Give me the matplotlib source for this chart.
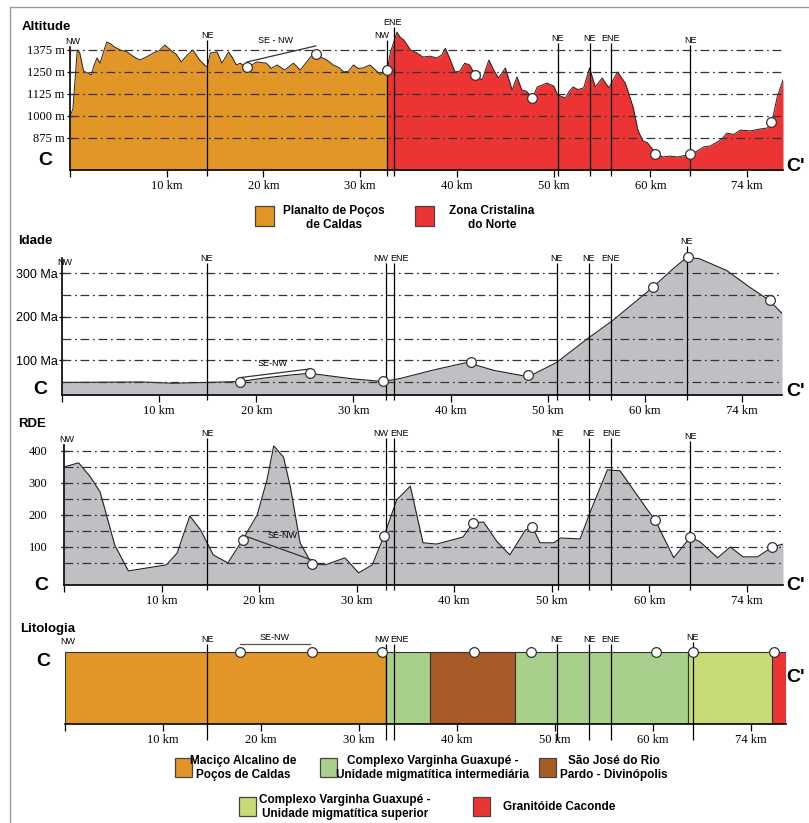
import matplotlib.pyplot as plt
from matplotlib.patches import Rectangle

W, H = 809, 823

# ------------------------ data ------------------------
fault_names = ['NE', 'NW', 'ENE', 'NE', 'NE', 'ENE', 'NE']
tick_km = [0, 10, 20, 30, 40, 50, 60, 70]
tick_lab = ['', '10 km', '20 km', '30 km', '40 km', '50 km', '60 km', '74 km']

# Altitude (m) -- Planalto de Pocos de Caldas part and Zona Cristalina part
alt_km_pp = [0, 0.3, 0.75, 1.0, 1.4, 1.8, 2.2, 2.5, 2.8, 3.1, 3.5, 3.8, 4.2, 4.6,
             5.2, 5.9, 6.5, 7.2, 7.9, 8.6, 9.2, 9.8, 10.5, 11.0, 11.5, 12.1, 12.7,
             13.4, 14.0, 14.2, 14.5, 15.2, 15.7, 16.4, 16.8, 17.2, 17.6, 18.3, 18.8,
             19.3, 20.3, 20.8, 21.4, 22.2, 23.1, 23.8, 24.5, 25.2, 25.9, 26.5, 27.2,
             27.8, 28.3, 28.8, 29.3, 29.8, 30.3, 31.0, 31.6, 32.1, 32.5, 32.8]
alt_m_pp = [1000, 1040, 1375, 1360, 1255, 1245, 1233, 1290, 1330, 1300, 1370, 1420,
            1410, 1392, 1375, 1364, 1340, 1318, 1335, 1358, 1370, 1403, 1370, 1350,
            1307, 1345, 1375, 1318, 1285, 1280, 1358, 1364, 1300, 1364, 1330, 1290,
            1300, 1273, 1290, 1307, 1300, 1270, 1290, 1261, 1300, 1261, 1310, 1358,
            1335, 1320, 1290, 1275, 1250, 1255, 1290, 1270, 1273, 1290, 1260, 1235,
            1250, 1261]
alt_km_zc = [32.8, 33.1, 33.8, 34.1, 34.5, 35.2, 35.8, 36.5, 37.2, 37.9, 38.4, 38.8,
             39.3, 39.8, 40.3, 40.8, 41.3, 41.9, 42.6, 43.3, 43.8, 44.3, 45.0, 45.7,
             46.2, 46.7, 47.2, 47.8, 48.3, 49.3, 50.0, 50.4, 51.2, 51.6, 52.0, 52.5,
             53.1, 53.7, 54.3, 55.0, 55.7, 56.6, 57.4, 58.2, 58.7, 59.2, 59.7, 60.1,
             60.5, 61.3, 62.0, 62.8, 63.5, 64.1, 64.8, 65.5, 66.2, 66.9, 67.4, 67.9,
             68.6, 69.3, 70.3, 71.2, 72.1, 72.6, 73.1, 73.7]
alt_m_zc = [1261, 1358, 1477, 1449, 1432, 1375, 1360, 1335, 1340, 1330, 1345, 1385,
            1320, 1250, 1255, 1300, 1290, 1233, 1205, 1318, 1260, 1216, 1273, 1148,
            1222, 1148, 1140, 1102, 1165, 1187, 1170, 1120, 1102, 1140, 1165, 1150,
            1160, 1273, 1165, 1216, 1160, 1250, 1187, 1051, 920, 860, 847, 820,
            790, 767, 772, 767, 775, 779, 800, 824, 830, 852, 870, 903,
            895, 920, 915, 925, 932, 977, 1108, 1205]
alt_pts_km = [18.3, 25.4, 32.8, 41.9, 47.8, 60.5, 64.1, 72.5]
alt_pts_m = [1278, 1352, 1261, 1233, 1102, 784, 784, 966]
alt_senw_km = [18.3, 25.4]
alt_senw_m = [1307, 1398]
alt_faults = [14.2, 32.8, 33.5, 50.4, 53.7, 55.9, 64.1]
alt_fault_top = [1432, 1432, 1506, 1415, 1415, 1415, 1403]
alt_grid = [1375, 1250, 1125, 1000, 875]

# Idade (Ma)
age_km = [0, 8.3, 11.4, 14.9, 18.3, 21.1, 23.5, 25.5, 27.2, 30.0, 33.0, 34.8, 38.3,
          41.7, 44.4, 48.0, 50.9, 54.1, 56.7, 60.8, 62.9, 64.3, 65.6, 68.4, 70.8,
          72.8, 74.1]
age_ma = [49, 50, 47, 49, 51, 60, 66, 70, 65, 57, 51, 58, 78, 95, 77, 62, 95, 150,
          192, 268, 311, 337, 334, 307, 268, 238, 208]
age_pts_km = [18.3, 25.5, 33.0, 42.1, 48.0, 60.8, 64.4, 72.9]
age_pts_ma = [51, 70, 53, 95, 65, 268, 337, 240]
age_senw_km = [18.3, 25.5]
age_senw_ma = [60, 80]
age_faults = [14.9, 33.3, 34.2, 50.9, 54.2, 56.5, 64.3]
age_fault_top = [325, 323, 323, 323, 323, 323, 364]
age_grid = [300, 250, 200, 150, 100, 50]

# RDE
rde_km = [0, 1.5, 2.7, 3.7, 5.2, 6.6, 10.5, 11.6, 12.9, 14.0, 15.3, 16.8, 18.3, 19.8,
          20.8, 21.5, 22.5, 23.2, 24.2, 25.4, 26.8, 28.8, 30.2, 31.6, 32.8, 34.1,
          35.5, 36.8, 38.2, 40.9, 41.9, 43.0, 44.4, 45.7, 47.3, 48.0, 48.8, 50.2,
          50.9, 52.9, 53.9, 55.7, 57.0, 59.8, 60.6, 62.5, 64.2, 65.2, 67.0, 68.3,
          69.6, 71.1, 72.6, 73.7]
rde_val = [350, 363, 319, 272, 106, 25, 44, 81, 197, 153, 75, 50, 122, 200,
           309, 416, 381, 288, 113, 47, 44, 66, 19, 44, 134, 247,
           290, 113, 109, 131, 175, 178, 116, 75, 153, 163, 113, 113,
           128, 125, 206, 341, 338, 216, 184, 66, 131, 116, 66, 100,
           69, 69, 100, 109]
rde_pts_km = [18.3, 25.4, 32.8, 41.9, 48.0, 60.6, 64.2, 72.6]
rde_pts_val = [122, 47, 134, 175, 163, 184, 131, 100]
rde_senw_km = [18.3, 25.4]
rde_senw_val = [137, 59]
rde_faults = [14.7, 33.0, 33.8, 50.6, 53.8, 56.1, 64.2]
rde_fault_top = [441, 441, 441, 441, 441, 441, 431]
rde_grid = [400, 350, 300, 250, 200, 150, 100, 50]

# Litologia
lito_start = [0, 32.8, 37.3, 45.9, 63.6, 72.2]
lito_end = [32.8, 37.3, 45.9, 63.6, 72.2, 73.6]
lito_unit = [0, 1, 2, 1, 3, 4]
lito_pts_km = [17.9, 25.2, 32.4, 41.7, 47.6, 60.3, 64.1, 72.4]
lito_senw_km = [17.9, 25.0]
lito_faults = [14.5, 32.8, 33.6, 50.2, 53.5, 55.7, 64.1]
lito_fault_top = [1.11, 1.11, 1.11, 1.11, 1.11, 1.11, 1.14]

unit_names = ['Maciço Alcalino de\nPoços de Caldas',
              'Complexo Varginha Guaxupé -\nUnidade migmatítica intermediária',
              'São José do Rio\nPardo - Divinópolis',
              'Complexo Varginha Guaxupé -\nUnidade migmatítica superior',
              'Granitóide Caconde']
unit_colors = ['#e39628', '#a8d08c', '#a85b27', '#c6dc76', '#ec3434']
zone_names = ['Planalto de Poços\nde Caldas', 'Zona Cristalina\ndo Norte']
zone_colors = ['#e39628', '#ec3434']

GRAY = '#c0c0c4'
SERIF = 'Liberation Serif'
SANS = 'Liberation Sans'
NARROW = ['Liberation Sans Narrow', 'Liberation Sans']
DASH = (0, (7, 3, 1.4, 3))

fig = plt.figure(figsize=(W / 100, H / 100), dpi=100)


def px_axes(l, t, r, b):
    return fig.add_axes([l / W, 1 - b / H, (r - l) / W, (b - t) / H])


def style(ax, xmax, ylim, spine_top, yticks, ylabels, yfont, ypad):
    ax.set_xlim(0, xmax)
    ax.set_ylim(*ylim)
    for s in ['top', 'right']:
        ax.spines[s].set_visible(False)
    ax.spines['left'].set_bounds(ylim[0], spine_top)
    ax.spines['left'].set_linewidth(1.2)
    ax.spines['bottom'].set_linewidth(1.2)
    ax.set_xticks(tick_km)
    ax.set_xticklabels(tick_lab, fontfamily=SERIF, fontsize=9)
    ax.tick_params(axis='x', length=5, width=0.9, pad=2)
    ax.set_yticks(yticks)
    ax.set_yticklabels(ylabels, fontfamily=yfont, fontsize=9)
    ax.tick_params(axis='y', length=4, width=0.9, direction='inout', pad=ypad)
    ax.patch.set_alpha(0)


def faults(ax, xs, tops, bottom, nw_top, ene_above=False):
    ax.vlines(xs, bottom, tops, color='k', lw=0.9, clip_on=False, zorder=4)
    for i, (x, t, n) in enumerate(zip(xs, tops, fault_names)):
        ha, dx = 'center', 0
        if n == 'NW':
            ha, dx = 'right', 0.25
        if n == 'ENE' and fault_names[i - 1] == 'NW':
            if ene_above:
                dx = -0.2
            else:
                ha, dx = 'left', xs[i - 1] - x + 0.45
        ax.text(x + dx, t, n, ha=ha, va='bottom', fontsize=6.5,
                fontfamily=SANS, clip_on=False, zorder=5)
    ax.text(0.25, nw_top, 'NW', ha='center', va='bottom', fontsize=6.5,
            fontfamily=SANS, clip_on=False)


def points(ax, xs, ys):
    ax.plot(xs, ys, 'o', ms=7, mfc='white', mec='#333333', mew=0.9,
            zorder=6, clip_on=False)


# ------------------------ Altitude ------------------------
ax1 = px_axes(70, 25, 783, 170)
lo1 = 693
ax1.fill_between(alt_km_pp, alt_m_pp, lo1, color=zone_colors[0], lw=0)
ax1.fill_between(alt_km_zc, alt_m_zc, lo1, color=zone_colors[1], lw=0)
ax1.plot(alt_km_pp, alt_m_pp, color='#222222', lw=0.7)
ax1.plot(alt_km_zc, alt_m_zc, color='#222222', lw=0.7)
ax1.hlines(alt_grid, 0, 73.7, color='#333333', lw=0.9, linestyles=[DASH], zorder=3)
style(ax1, 73.7, (lo1, 1517), 1392, alt_grid, [f'{v} m' for v in alt_grid], SERIF, 2)
faults(ax1, alt_faults, alt_fault_top, 659, 1400, ene_above=True)
ax1.plot(alt_senw_km, alt_senw_m, color='#333333', lw=0.9, zorder=5)
ax1.text(21.2, 1405, 'SE - NW', ha='center', va='bottom', fontsize=6.5, fontfamily=SANS)
points(ax1, alt_pts_km, alt_pts_m)

# ------------------------ Idade ------------------------
ax2 = px_axes(62, 245, 782, 395)
lo2 = 20
ax2.fill_between(age_km, age_ma, lo2, color=GRAY, lw=0)
ax2.plot(age_km, age_ma, color='#222222', lw=0.8)
ax2.hlines(age_grid, 0, 74.1, color='#333333', lw=0.9, linestyles=[DASH], zorder=3)
style(ax2, 74.1, (lo2, 365.6), 335, [300, 200, 100], ['300 Ma', '200 Ma', '100 Ma'], SANS, 1)
faults(ax2, age_faults, age_fault_top, 8.5, 314)
ax2.plot(age_senw_km, age_senw_ma, color='#333333', lw=0.9, zorder=5)
ax2.text(21.7, 82, 'SE-NW', ha='center', va='bottom', fontsize=6.5, fontfamily=SANS)
points(ax2, age_pts_km, age_pts_ma)

# ------------------------ RDE ------------------------
ax3 = px_axes(64, 435, 783, 585)
lo3 = -19
ax3.fill_between(rde_km, rde_val, lo3, color=GRAY, lw=0)
ax3.plot(rde_km, rde_val, color='#222222', lw=0.8)
ax3.hlines(rde_grid, 0, 73.7, color='#333333', lw=0.9, linestyles=[DASH], zorder=3)
style(ax3, 73.7, (lo3, 450), 420, [400, 300, 200, 100], ['400', '300', '200', '100'], SERIF, 10)
faults(ax3, rde_faults, rde_fault_top, -34, 422)
ax3.plot(rde_senw_km, rde_senw_val, color='#333333', lw=0.9, zorder=5)
ax3.text(22.4, 122, 'SE-NW', ha='center', va='bottom', fontsize=6.5, fontfamily=SANS)
points(ax3, rde_pts_km, rde_pts_val)

# ------------------------ Litologia ------------------------
ax4 = px_axes(65, 627, 786, 724)
widths = [e - s for s, e in zip(lito_start, lito_end)]
ax4.barh(0.5, widths, left=lito_start, height=1,
         color=[unit_colors[u] for u in lito_unit], edgecolor='#333333', lw=0.8)
style(ax4, 73.6, (0, 1.347), 1.0, [], [], SANS, 1)
ax4.spines['left'].set_visible(False)
faults(ax4, lito_faults, lito_fault_top, -0.22, 1.08)
ax4.plot(lito_senw_km, [1.11, 1.11], color='#555555', lw=0.9, clip_on=False)
ax4.text(21.4, 1.14, 'SE-NW', ha='center', va='bottom', fontsize=6.5, fontfamily=SANS)
points(ax4, lito_pts_km, [1.0] * len(lito_pts_km))

# ------------------------ labels, legends, frame ------------------------
ov = fig.add_axes([0, 0, 1, 1], zorder=-1)
ov.set_xlim(0, W)
ov.set_ylim(H, 0)
ov.axis('off')
ov.plot([10, 10, 809], [823, 7, 7], color='#9a9a9a', lw=1)

for txt, x, y in [('Altitude', 22, 27), ('Idade', 18, 241), ('RDE', 18, 424), ('Litologia', 20, 629)]:
    ov.text(x, y, txt, fontsize=9.5, fontweight='bold', fontfamily=SANS, va='center')
for x, y in [(45, 160), (40, 389), (41, 585), (43, 662)]:
    ov.text(x, y, 'C', fontsize=14, fontweight='bold', fontfamily=SANS, ha='center', va='center')
for x, y in [(796, 166), (796, 391), (796, 585), (796, 678)]:
    ov.text(x, y, "C'", fontsize=14, fontweight='bold', fontfamily=SANS, ha='center', va='center')

# legend of the altitude profile
for (sx, tx), name, col in zip([(255, 334), (415, 492)], zone_names, zone_colors):
    ov.add_patch(Rectangle((sx, 206), 19, 20, fc=col, ec='#444444', lw=0.9))
    ov.text(tx, 218, name, ha='center', va='center', fontsize=8.5,
            fontfamily=NARROW, fontweight='bold', linespacing=1.3)

# legend of the lithology
leg_pos = [(175, 758, 243, 'center'), (320, 758, 433, 'center'), (539, 758, 614, 'center'),
           (239, 797, 345, 'center'), (473, 797, 503, 'left')]
for (sx, sy, tx, ha), name, col in zip(leg_pos, unit_names, unit_colors):
    ov.add_patch(Rectangle((sx, sy), 17, 19, fc=col, ec='#444444', lw=0.9))
    ov.text(tx, sy + 10, name, ha=ha, va='center', fontsize=8.5,
            fontfamily=NARROW, fontweight='bold', linespacing=1.3)

fig.savefig('out.png', dpi=100)
